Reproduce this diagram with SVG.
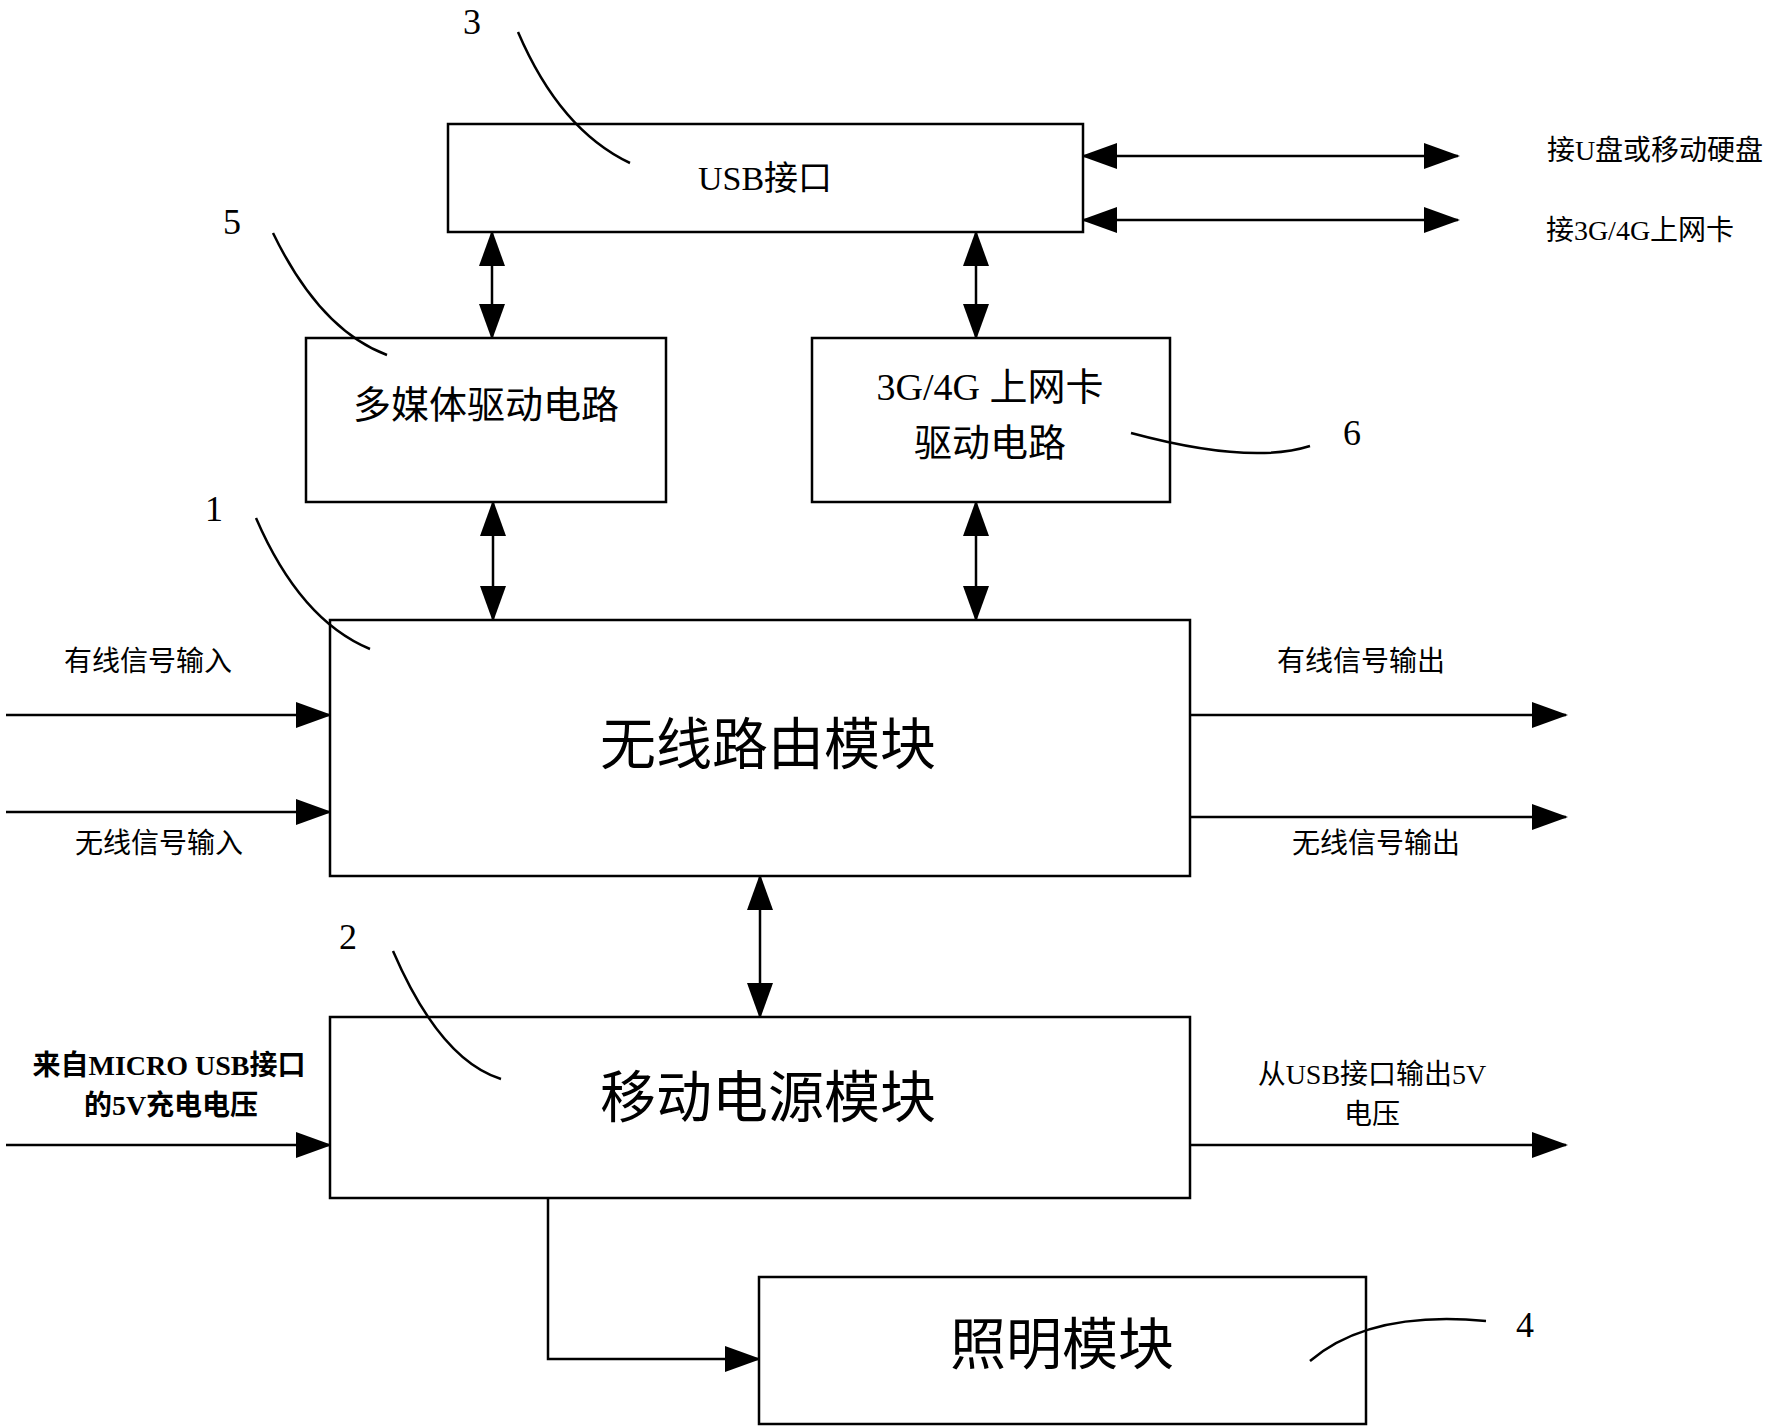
<svg xmlns="http://www.w3.org/2000/svg" width="1786" height="1428" viewBox="0 0 1786 1428">
<style>
.b{fill:#fff;stroke:#000;stroke-width:2.5}
.l{fill:none;stroke:#000;stroke-width:2.5}
.t{font-family:"Liberation Serif","Noto Sans CJK SC",serif;fill:#000;text-anchor:middle}
.s{font-size:28px}
.n{font-size:36px}
</style>
<defs>
<marker id="a" markerUnits="userSpaceOnUse" markerWidth="36" markerHeight="26" refX="34" refY="13" orient="auto-start-reverse"><path d="M0,0 L36,13 L0,26 Z" fill="#000"/></marker>
</defs>
<g id="connectors">
<line class="l" x1="1083" y1="156" x2="1458" y2="156" marker-start="url(#a)" marker-end="url(#a)"/>
<line class="l" x1="1083" y1="220" x2="1458" y2="220" marker-start="url(#a)" marker-end="url(#a)"/>
<line class="l" x1="492" y1="232" x2="492" y2="338" marker-start="url(#a)" marker-end="url(#a)"/>
<line class="l" x1="976" y1="232" x2="976" y2="338" marker-start="url(#a)" marker-end="url(#a)"/>
<line class="l" x1="493" y1="502" x2="493" y2="620" marker-start="url(#a)" marker-end="url(#a)"/>
<line class="l" x1="976" y1="502" x2="976" y2="620" marker-start="url(#a)" marker-end="url(#a)"/>
<line class="l" x1="760" y1="876" x2="760" y2="1017" marker-start="url(#a)" marker-end="url(#a)"/>
<line class="l" x1="6" y1="715" x2="330" y2="715" marker-end="url(#a)"/>
<line class="l" x1="6" y1="812" x2="330" y2="812" marker-end="url(#a)"/>
<line class="l" x1="1190" y1="715" x2="1566" y2="715" marker-end="url(#a)"/>
<line class="l" x1="1190" y1="817" x2="1566" y2="817" marker-end="url(#a)"/>
<line class="l" x1="6" y1="1145" x2="330" y2="1145" marker-end="url(#a)"/>
<line class="l" x1="1190" y1="1145" x2="1566" y2="1145" marker-end="url(#a)"/>
<polyline class="l" points="548,1198 548,1359 759,1359" marker-end="url(#a)"/>
</g>
<g id="usb"><rect class="b" x="448" y="124" width="635" height="108"/><text class="t" x="765" y="190" font-size="34">USB接口</text></g>
<g id="multimedia"><rect class="b" x="306" y="338" width="360" height="164"/><text class="t" x="486" y="418" font-size="38">多媒体驱动电路</text></g>
<g id="card"><rect class="b" x="812" y="338" width="358" height="164"/><text class="t" x="990" y="400" font-size="38">3G/4G 上网卡</text><text class="t" x="990" y="456" font-size="38">驱动电路</text></g>
<g id="router"><rect class="b" x="330" y="620" width="860" height="256"/><text class="t" x="768" y="764" font-size="56">无线路由模块</text></g>
<g id="power"><rect class="b" x="330" y="1017" width="860" height="181"/><text class="t" x="768" y="1117" font-size="56">移动电源模块</text></g>
<g id="light"><rect class="b" x="759" y="1277" width="607" height="147"/><text class="t" x="1062" y="1364" font-size="56">照明模块</text></g>
<g id="leaders">
<path class="l" d="M518,32 Q560,130 630,163"/>
<path class="l" d="M273,233 Q320,330 387,355"/>
<path class="l" d="M256,518 Q300,620 370,649"/>
<path class="l" d="M393,951 Q440,1060 501,1079"/>
<path class="l" d="M1131,433 Q1250,465 1310,446"/>
<path class="l" d="M1310,1361 Q1370,1310 1486,1321"/>
</g>
<g id="labels">
<text class="t s" x="1655" y="160">接U盘或移动硬盘</text>
<text class="t s" x="1640" y="240">接3G/4G上网卡</text>
<text class="t s" x="148" y="671">有线信号输入</text>
<text class="t s" x="159" y="853">无线信号输入</text>
<text class="t s" x="1361" y="671">有线信号输出</text>
<text class="t s" x="1376" y="853">无线信号输出</text>
<text class="t s" x="169" y="1075" font-weight="bold">来自MICRO USB接口</text>
<text class="t s" x="171" y="1115" font-weight="bold">的5V充电电压</text>
<text class="t s" x="1372" y="1084">从USB接口输出5V</text>
<text class="t s" x="1372" y="1124">电压</text>
<text class="t n" x="472" y="34">3</text>
<text class="t n" x="232" y="234">5</text>
<text class="t n" x="214" y="521">1</text>
<text class="t n" x="348" y="949">2</text>
<text class="t n" x="1352" y="445">6</text>
<text class="t n" x="1525" y="1337">4</text>
</g>
</svg>
